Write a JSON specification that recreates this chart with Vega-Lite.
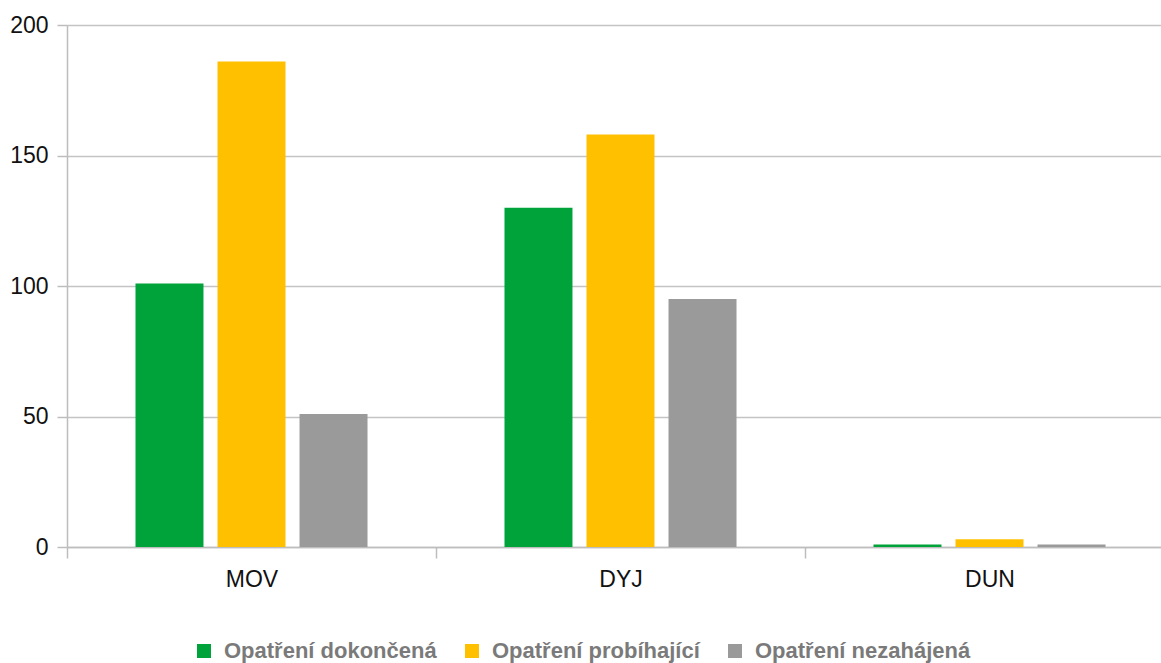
{
  "$schema": "https://vega.github.io/schema/vega-lite/v6.json",
  "width": 1094,
  "height": 522,
  "autosize": "none",
  "padding": {"left": 67, "top": 25, "right": 0, "bottom": 116},
  "background": "white",
  "data": {"values": [
    {"region": "MOV", "status": "Opatření dokončená", "value": 101},
    {"region": "MOV", "status": "Opatření probíhající", "value": 186},
    {"region": "MOV", "status": "Opatření nezahájená", "value": 51},
    {"region": "DYJ", "status": "Opatření dokončená", "value": 130},
    {"region": "DYJ", "status": "Opatření probíhající", "value": 158},
    {"region": "DYJ", "status": "Opatření nezahájená", "value": 95},
    {"region": "DUN", "status": "Opatření dokončená", "value": 1},
    {"region": "DUN", "status": "Opatření probíhající", "value": 3},
    {"region": "DUN", "status": "Opatření nezahájená", "value": 1}
  ]},
  "mark": {"type": "bar"},
  "encoding": {
    "x": {
      "field": "region", "type": "nominal", "sort": ["MOV", "DYJ", "DUN"],
      "scale": {"range": [0, 1107], "paddingInner": 0, "paddingOuter": 0},
      "axis": {
        "title": null, "labelAngle": 0, "tickBand": "extent",
        "domainColor": "#bdbdbd", "tickColor": "#bdbdbd", "tickSize": 11, "domainWidth": 1.5, "tickWidth": 1.5,
        "labelFont": "Liberation Sans", "labelFontSize": 23, "labelColor": "#111111",
        "labelPadding": 10, "grid": false
      }
    },
    "xOffset": {
      "field": "status", "type": "nominal",
      "sort": ["Opatření dokončená", "Opatření probíhající", "Opatření nezahájená"],
      "scale": {"paddingInner": 0.171, "paddingOuter": 0.835}
    },
    "y": {
      "field": "value", "type": "quantitative",
      "scale": {"domain": [0, 200], "nice": false},
      "axis": {
        "title": null, "values": [0, 50, 100, 150, 200],
        "domainColor": "#bdbdbd", "tickColor": "#bdbdbd", "gridColor": "#c4c4c4",
        "tickSize": 10, "domainWidth": 1.5, "tickWidth": 1.5, "gridWidth": 1.3,
        "labelFont": "Liberation Sans", "labelFontSize": 23, "labelColor": "#111111",
        "labelPadding": 9
      }
    },
    "color": {
      "field": "status", "type": "nominal",
      "sort": ["Opatření dokončená", "Opatření probíhající", "Opatření nezahájená"],
      "scale": {"range": ["#00a33a", "#ffc000", "#9a9a9a"]},
      "legend": {
        "title": null, "orient": "none", "direction": "horizontal",
        "legendX": 126, "legendY": 615,
        "symbolType": "square", "symbolSize": 196, "symbolStrokeWidth": 0,
        "labelFont": "Liberation Sans", "labelFontSize": 22, "labelFontWeight": "bold",
        "labelColor": "#7a7a7a", "columnPadding": 24, "labelOffset": 9, "labelLimit": 0
      }
    }
  },
  "config": {"view": {"stroke": null}}
}
